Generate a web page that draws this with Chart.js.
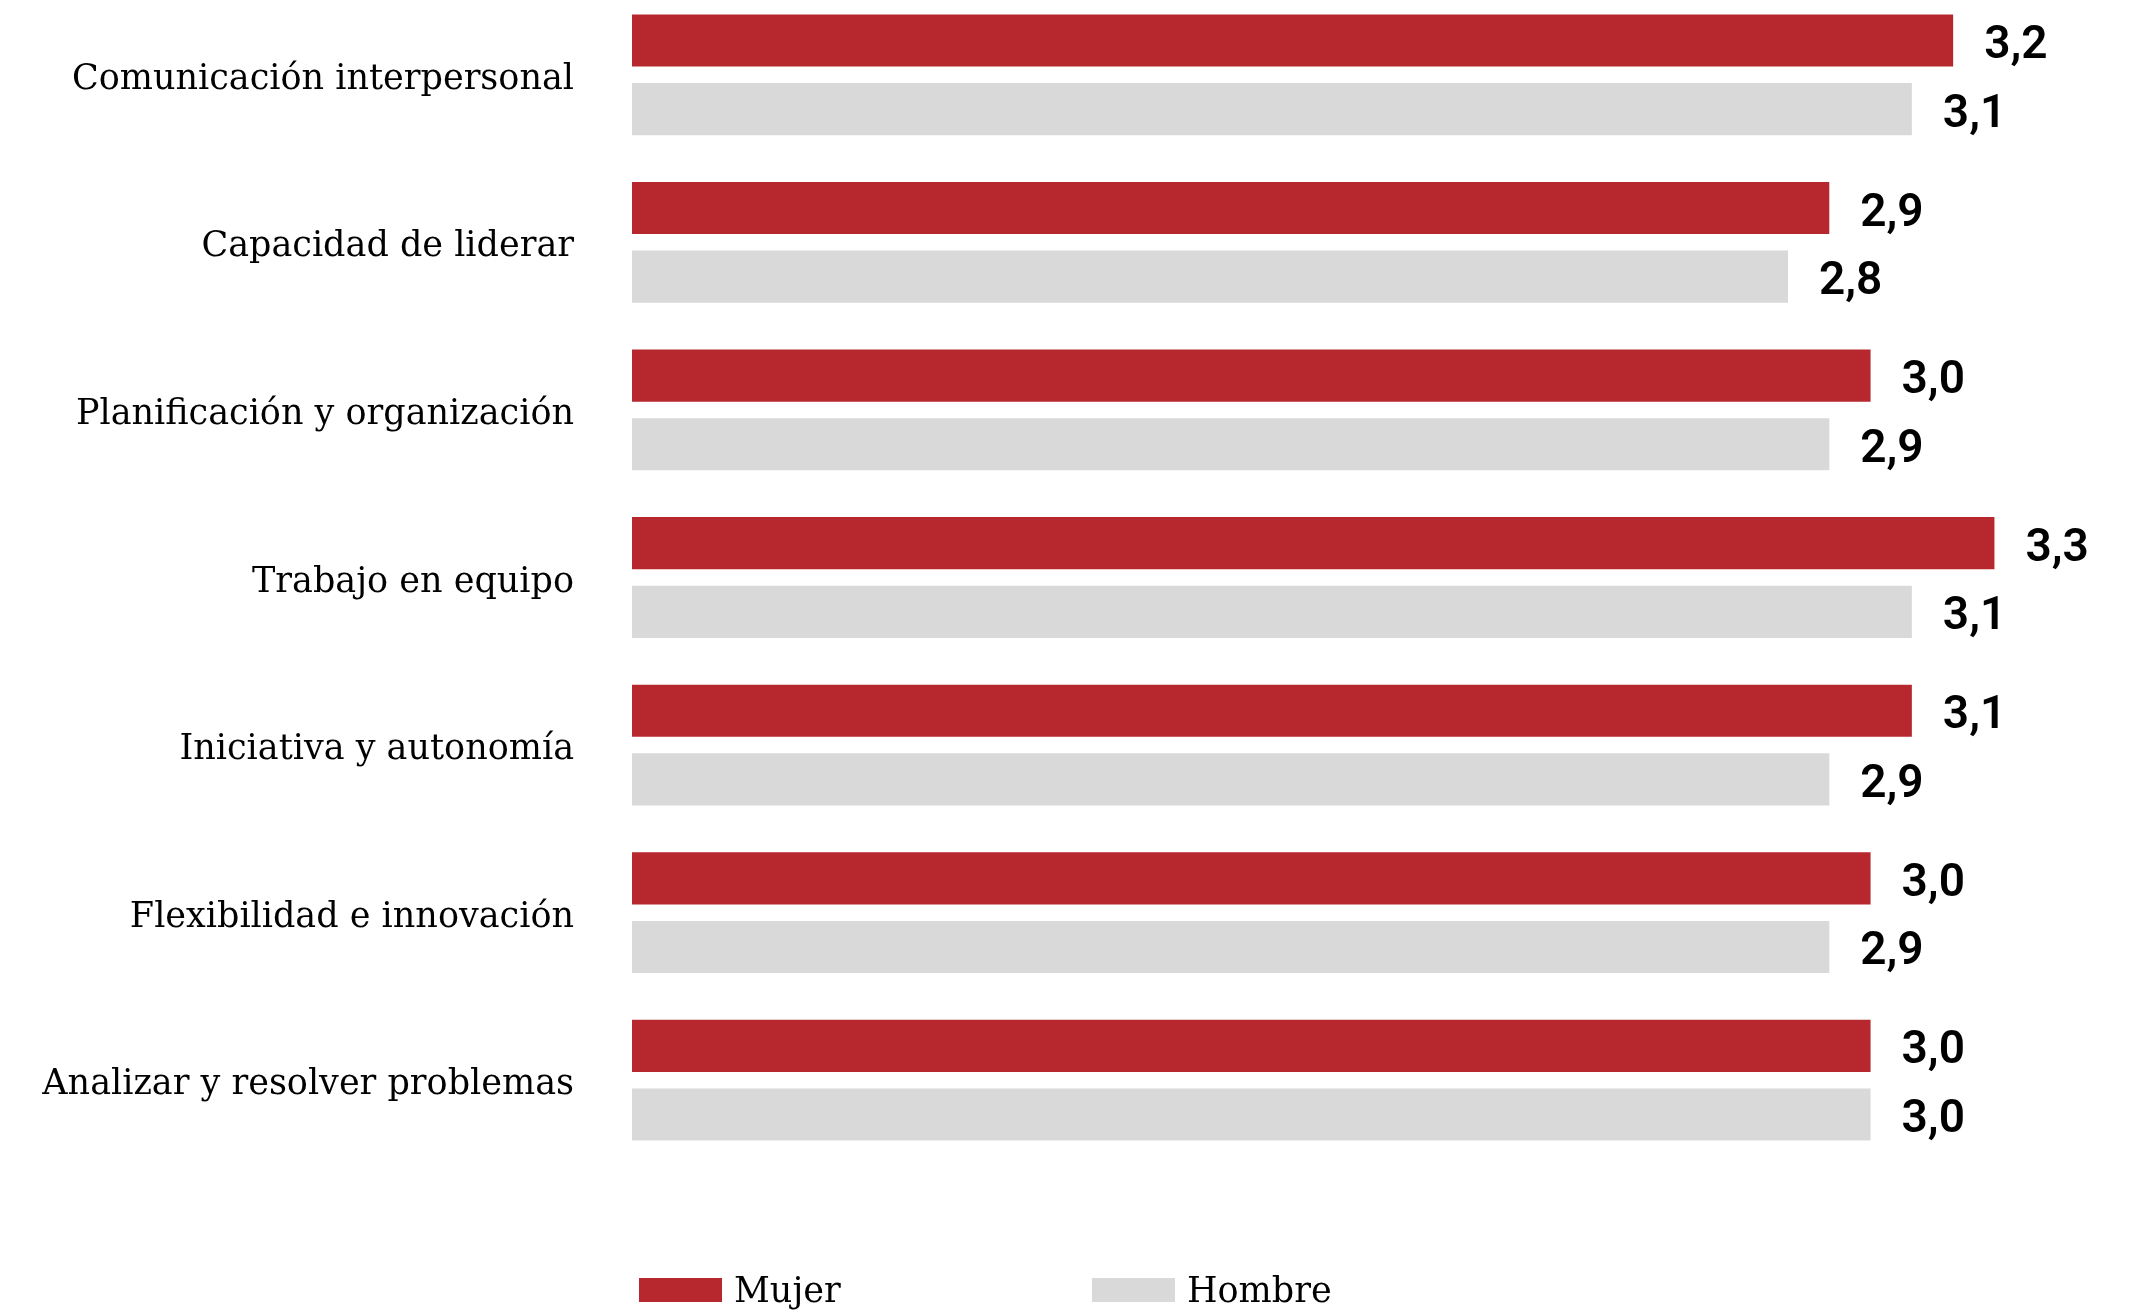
<!DOCTYPE html>
<html>
<head>
<meta charset="utf-8">
<script src="https://cdn.jsdelivr.net/npm/chart.js@4.4.1/dist/chart.umd.min.js"></script>
<style>
  html, body { margin: 0; padding: 0; background: #fff; overflow: hidden; }
  #wrap { position: relative; width: 2153px; height: 1310px; overflow: hidden; }
  #wrap canvas { position: absolute; left: 0; top: -9px; }
  .legend { position: absolute; top: 1270px; left: 639px; display: flex; font-family: "DejaVu Serif", serif; font-size: 35px; color: #000; }
  .legend .item { display: flex; align-items: center; width: 453px; }
  .legend .box { width: 83px; height: 24px; margin-right: 12px; }
</style>
</head>
<body>
<div id="wrap">
  <canvas id="chart" width="2153" height="1319"></canvas>
  <div class="legend" id="legend"></div>
</div>
<script>
const categories = [
  "Comunicación interpersonal",
  "Capacidad de liderar",
  "Planificación y organización",
  "Trabajo en equipo",
  "Iniciativa y autonomía",
  "Flexibilidad e innovación",
  "Analizar y resolver problemas"
];
const mujer = [3.2, 2.9, 3.0, 3.3, 3.1, 3.0, 3.0];
const hombre = [3.1, 2.8, 2.9, 3.1, 2.9, 2.9, 3.0];
const seriesNames = ["Mujer", "Hombre"];

const RED = "#b7282e";
const GREY = "#d9d9d9";

// value labels at bar ends, comma decimals
const valueLabels = {
  id: "valueLabels",
  afterDatasetsDraw(chart) {
    const ctx = chart.ctx;
    ctx.save();
    ctx.font = "600 46px Roboto";
    ctx.fillStyle = "#000";
    ctx.textAlign = "left";
    ctx.textBaseline = "middle";
    chart.data.datasets.forEach((ds, i) => {
      chart.getDatasetMeta(i).data.forEach((bar, j) => {
        const txt = ds.data[j].toFixed(1).replace(".", ",");
        ctx.fillText(txt, bar.x + 31, bar.y + 6);
      });
    });
    ctx.restore();
  }
};

const ctx = document.getElementById("chart").getContext("2d");
new Chart(ctx, {
  type: "bar",
  data: {
    labels: categories,
    datasets: [
      { label: seriesNames[0], data: mujer, backgroundColor: RED },
      { label: seriesNames[1], data: hombre, backgroundColor: GREY }
    ]
  },
  options: {
    indexAxis: "y",
    responsive: false,
    animation: false,
    layout: { padding: { top: 0, bottom: 146, right: 76, left: 0 } },
    datasets: {
      bar: { barPercentage: 0.76, categoryPercentage: 0.819 }
    },
    plugins: {
      legend: { display: false },
      tooltip: { enabled: false }
    },
    scales: {
      x: { display: false, min: 0, max: 3.5 },
      y: {
        grid: { display: false, drawTicks: false },
        border: { display: false },
        ticks: {
          color: "#000",
          padding: 58,
          labelOffset: 5,
          font: { family: "DejaVu Serif", size: 35 }
        },
        afterFit(scale) {
          scale.width = 632;
          // tick padding should not push the plot down
          scale.paddingTop = 0;
          scale.paddingBottom = 0;
        }
      }
    }
  },
  plugins: [valueLabels]
});

// legend below the plot
const legend = document.getElementById("legend");
[RED, GREY].forEach((c, i) => {
  const item = document.createElement("div");
  item.className = "item";
  item.innerHTML = '<span class="box" style="background:' + c + '"></span><span>' + seriesNames[i] + '</span>';
  legend.appendChild(item);
});
</script>
</body>
</html>
